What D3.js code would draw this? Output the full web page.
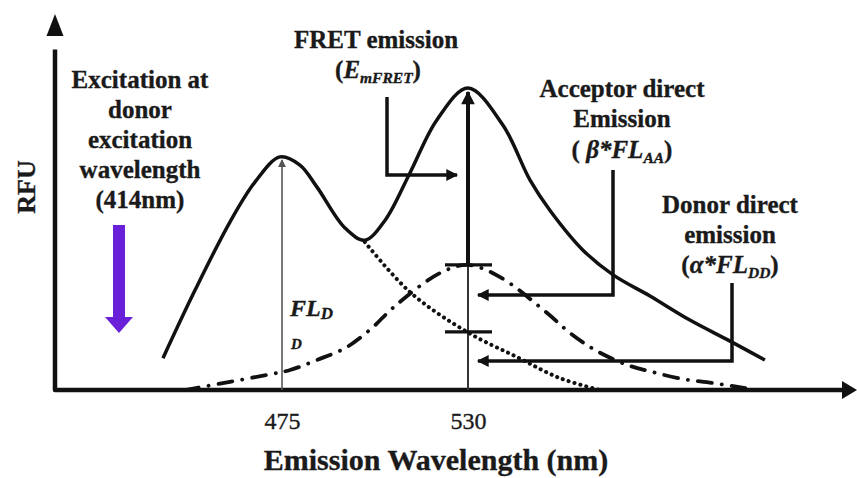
<!DOCTYPE html>
<html>
<head>
<meta charset="utf-8">
<script src="https://cdn.jsdelivr.net/npm/d3@7"></script>
<style>
body { margin: 0; background: #fff; }
text { font-family: "Liberation Serif", "Times New Roman", serif; fill: #1a1a1a; stroke: #1a1a1a; stroke-width: 0.35px; }
</style>
</head>
<body>
<script>
// spectra (nm, RFU)
var totalNm  = [439.8, 449.3, 459.6, 467.0, 474.4, 480.3, 485.3, 493.6, 499.5, 505.5, 512.8, 520.8, 530.0, 540.3, 548.3, 554.2, 564.0, 572.9, 583.8, 595.6, 607.5, 617.8];
var totalRfu = [8.6, 27.0, 45.4, 56.2, 63.0, 60.8, 54.9, 43.8, 40.5, 45.9, 58.6, 73.0, 81.6, 71.6, 56.8, 48.6, 37.8, 31.1, 25.4, 18.9, 13.2, 8.1];
var donorNm  = [499.5, 512.8, 529.7, 544.5, 557.2, 569.0];
var donorRfu = [40.0, 26.5, 15.7, 8.9, 3.2, 0];
var accNm    = [446.3, 459.6, 470.6, 477.4, 485.3, 494.2, 501.9, 507.8, 521.7, 530.0, 539.5, 553.4, 560.2, 567.6, 577.0, 584.4, 593.3, 602.2, 612.0];
var accRfu   = [0, 2.2, 4.1, 5.4, 8.1, 11.6, 17.0, 22.2, 31.6, 33.8, 30.5, 20.8, 15.4, 10.8, 6.8, 4.9, 3.0, 1.9, 0.5];
var tickValues = [475, 530];
var donorPeakNm = 475, donorPeakRfu = 63.0;
var fretNm = 530, fretPeakRfu = 81.6, accAt530 = 33.8, donorAt530 = 15.7;

function render(){
var width = 857, height = 478;
var x = d3.scaleLinear().domain([475, 530]).range([282, 468]);
var y = d3.scaleLinear().domain([0, 100]).range([390, 20]);

var svg = d3.select("body").append("svg")
    .attr("width", width)
    .attr("height", height);

var defs = svg.append("defs");
defs.append("marker").attr("id", "head")
    .attr("viewBox", "0 0 10 10").attr("refX", 9).attr("refY", 5)
    .attr("markerWidth", 3.6).attr("markerHeight", 3.4).attr("orient", "auto")
    .attr("markerUnits", "strokeWidth")
  .append("path").attr("d", "M0,0L10,5L0,10Z").attr("fill", "#111");
defs.append("marker").attr("id", "thin")
    .attr("viewBox", "0 0 10 10").attr("refX", 9).attr("refY", 5)
    .attr("markerWidth", 5).attr("markerHeight", 5).attr("orient", "auto")
    .attr("markerUnits", "strokeWidth")
  .append("path").attr("d", "M0,0L10,5L0,10Z").attr("fill", "#555");

var line = d3.line().curve(d3.curveCatmullRom.alpha(0.5));
function pts(a, b) { return a.map(function(d, i) { return [x(d), y(b[i])]; }); }

// axes with arrowheads
svg.append("path")
    .attr("d", "M" + (x.range()[0] - 227) + "," + y(92) + "V" + y(0) + "H" + 844)
    .attr("fill", "none").attr("stroke", "#111").attr("stroke-width", 4.5)
    .attr("stroke-linejoin", "round");
svg.append("path").attr("d", "M55,14L63.5,36L46.5,36Z").attr("fill", "#111");
svg.append("path").attr("d", "M857,390L842,381L842,399Z").attr("fill", "#111");

// vertical marker lines
svg.append("line")
    .attr("x1", x(donorPeakNm)).attr("x2", x(donorPeakNm))
    .attr("y1", y(0)).attr("y2", y(donorPeakRfu) + 3)
    .attr("stroke", "#555").attr("stroke-width", 1.6)
    .attr("marker-end", "url(#thin)");
svg.append("line")
    .attr("x1", x(fretNm)).attr("x2", x(fretNm))
    .attr("y1", y(0)).attr("y2", y(accAt530))
    .attr("stroke", "#333").attr("stroke-width", 2);
svg.append("line")
    .attr("x1", x(fretNm)).attr("x2", x(fretNm))
    .attr("y1", y(accAt530)).attr("y2", y(fretPeakRfu) + 4)
    .attr("stroke", "#111").attr("stroke-width", 4)
    .attr("marker-end", "url(#head)");
[accAt530, donorAt530].forEach(function(v) {
  svg.append("line")
      .attr("x1", x(fretNm) - 23).attr("x2", x(fretNm) + 24)
      .attr("y1", y(v)).attr("y2", y(v))
      .attr("stroke", "#111").attr("stroke-width", 3.2);
});

// spectra
svg.append("path").attr("d", line(pts(totalNm, totalRfu)))
    .attr("fill", "none").attr("stroke", "#111").attr("stroke-width", 3.5);
svg.append("path").attr("d", line(pts(donorNm, donorRfu)))
    .attr("fill", "none").attr("stroke", "#111").attr("stroke-width", 4)
    .attr("stroke-dasharray", "0.1,6").attr("stroke-linecap", "round");
svg.append("path").attr("d", line(pts(accNm, accRfu)))
    .attr("fill", "none").attr("stroke", "#111").attr("stroke-width", 3.8)
    .attr("stroke-dasharray", "14,10,0.1,10").attr("stroke-linecap", "round");

// elbow arrows
function elbow(d) {
  svg.append("path").attr("d", d)
      .attr("fill", "none").attr("stroke", "#111").attr("stroke-width", 3.5)
      .attr("marker-end", "url(#head)");
}
elbow("M387,97V175H" + (x(fretNm) - 11));
elbow("M613,170V295H" + (x(fretNm) + 10));
elbow("M732,283V361H" + (x(fretNm) + 10));

// excitation arrow
svg.append("rect").attr("x", 113).attr("y", 225).attr("width", 12).attr("height", 95)
    .attr("fill", "#6a1fd9");
svg.append("path").attr("d", "M105,317L133,317L119,333Z").attr("fill", "#6a1fd9");

// tick labels
var xAxis = svg.append("g")
    .attr("transform", "translate(0," + y(0) + ")")
    .call(d3.axisBottom(x).tickValues(tickValues).tickSize(0).tickPadding(22).tickFormat(d3.format("d")));
xAxis.select(".domain").remove();
xAxis.selectAll("text").attr("font-size", 24).style("font-family", "Liberation Serif").attr("fill", "#1a1a1a");

// labels
function block(lines, cx, y0, dy, size) {
  lines.forEach(function(t, i) {
    svg.append("text").attr("x", cx).attr("y", y0 + i * dy)
        .attr("text-anchor", "middle").attr("font-weight", "bold")
        .attr("font-size", size).text(t);
  });
}
block(["Excitation at", "donor", "excitation", "wavelength", "(414nm)"], 140, 88, 30, 25);
block(["FRET emission"], 376, 48, 30, 25);
block(["Acceptor direct", "Emission"], 622, 97, 30, 25);
block(["Donor direct", "emission"], 730, 213, 30, 25);

function sub(cx, yb, pre, main, s, post, size) {
  var t = svg.append("text").attr("x", cx).attr("y", yb)
      .attr("text-anchor", "middle").attr("font-weight", "bold").attr("font-size", size);
  t.append("tspan").text(pre);
  t.append("tspan").attr("font-style", "italic").text(main);
  t.append("tspan").attr("font-style", "italic").attr("font-size", size * 0.62).attr("dy", 5).text(s);
  t.append("tspan").attr("dy", -5).text(post);
}
sub(378, 78, "(", "E", "mFRET", ")", 25);
sub(622, 158, "( ", "\u03b2*FL", "AA", ")", 25);
sub(730, 273, "(", "\u03b1*FL", "DD", ")", 25);

var fl = svg.append("text").attr("x", 290).attr("y", 316)
    .attr("font-weight", "bold").attr("font-style", "italic").attr("font-size", 24);
fl.append("tspan").text("FL");
fl.append("tspan").attr("font-size", 17).attr("dy", 3).text("D");
svg.append("text").attr("x", 291).attr("y", 349)
    .attr("font-weight", "bold").attr("font-style", "italic").attr("font-size", 15).text("D");

svg.append("text").attr("x", 436).attr("y", 470)
    .attr("text-anchor", "middle").attr("font-weight", "bold").attr("font-size", 30)
    .text("Emission Wavelength (nm)");
svg.append("text").attr("transform", "translate(35,187) rotate(-90)")
    .attr("text-anchor", "middle").attr("font-weight", "bold").attr("font-size", 26)
    .text("RFU");
}
render();
</script>
</body>
</html>
